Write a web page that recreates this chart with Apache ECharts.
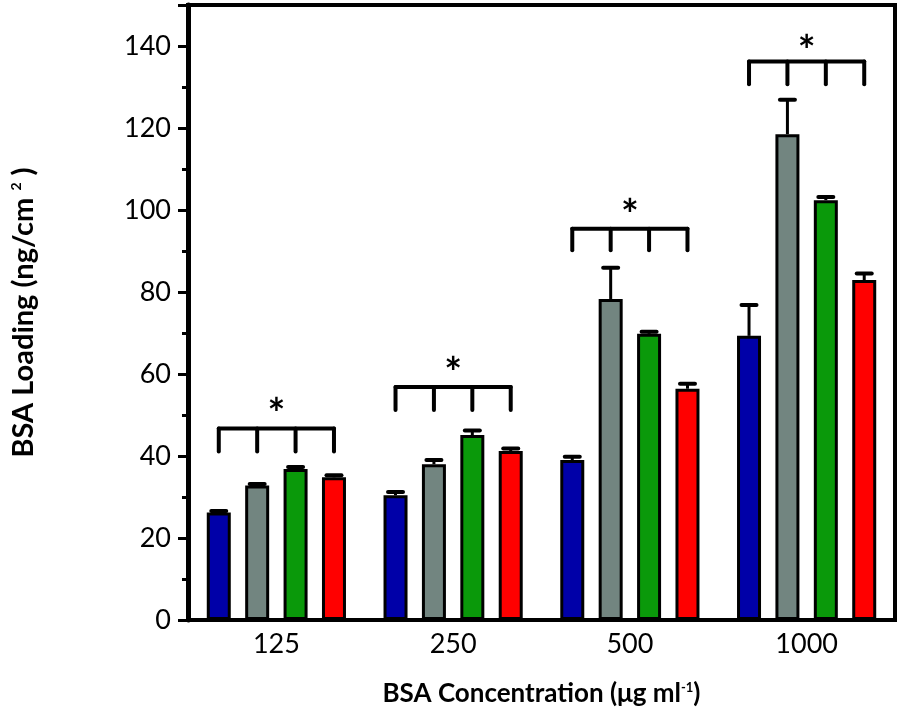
<!DOCTYPE html>
<html>
<head>
<meta charset="utf-8">
<script src="https://cdn.jsdelivr.net/npm/echarts@6/dist/echarts.min.js"></script>
<style>html,body{margin:0;padding:0;background:#fff;}#c{width:903px;height:717px;}</style>
</head>
<body>
<div id="c"></div>
<script>
// ---- data ----
var categories = ['125', '250', '500', '1000'];
var blueValues  = [26.2, 30.4, 39.0, 69.3];
var blueErr     = [0.4, 0.8, 0.8, 7.5];
var greyValues  = [32.8, 38.0, 78.3, 118.5];
var greyErr     = [0.4, 1.0, 7.6, 8.4];
var greenValues = [36.8, 45.1, 69.8, 102.4];
var greenErr    = [0.5, 1.1, 0.5, 0.8];
var redValues   = [34.8, 41.2, 56.4, 82.9];
var redErr      = [0.5, 0.6, 1.2, 1.6];
// significance brackets: [bar level, tick bottom level, star level]
var bracketTop    = [46.7, 56.8, 95.4, 136.2];
var bracketBottom = [41.1, 51.2, 90.2, 130.7];
var starLevel     = [52.0, 62.2, 100.7, 140.5];
var yTicks = [0, 20, 40, 60, 80, 100, 120, 140];

// ---- styling ----
var colors = ['#0000a8', '#728580', '#0a990a', '#ff0000'];
var BAR_W = 24, BAR_GAP = 0.6;
var STEP = BAR_W * (1 + BAR_GAP);
var FONT = 'Lato';

var chart = echarts.init(document.getElementById('c'), null, {renderer: 'canvas'});

var values = [blueValues, greyValues, greenValues, redValues];
var errs = [blueErr, greyErr, greenErr, redErr];

var series = [];
values.forEach(function (vals, i) {
  series.push({
    type: 'bar',
    data: vals,
    barWidth: BAR_W,
    barGap: (BAR_GAP * 100) + '%',
    itemStyle: {color: colors[i], borderColor: '#000', borderWidth: 3},
    z: 2
  });
});
values.forEach(function (vals, i) {
  var off = (i - 1.5) * STEP;
  series.push({
    type: 'custom',
    z: 5,
    clip: false,
    data: vals.map(function (v, k) { return [k, v, errs[i][k]]; }),
    encode: {x: 0, y: 1},
    renderItem: function (params, api) {
      var c = api.value(0), v = api.value(1), e = api.value(2);
      var p0 = api.coord([c, v]);
      var p1 = api.coord([c, v + e]);
      var x = p0[0] + off;
      return {
        type: 'group',
        children: [
          {type: 'line', shape: {x1: x, y1: p0[1], x2: x, y2: p1[1]}, style: {stroke: '#000', lineWidth: 3}},
          {type: 'line', shape: {x1: x - 7.5, y1: p1[1], x2: x + 7.5, y2: p1[1]}, style: {stroke: '#000', lineWidth: 4, lineCap: 'round'}}
        ]
      };
    }
  });
});
series.push({
  type: 'custom',
  z: 6,
  clip: false,
  data: categories.map(function (c, k) { return [k, bracketTop[k], bracketBottom[k], starLevel[k]]; }),
  encode: {x: 0, y: 1},
  renderItem: function (params, api) {
    var c = api.value(0);
    var pt = api.coord([c, api.value(1)]);
    var pb = api.coord([c, api.value(2)]);
    var ps = api.coord([c, api.value(3)]);
    var children = [];
    var xl = pt[0] - 1.5 * STEP, xr = pt[0] + 1.5 * STEP;
    children.push({type: 'line', shape: {x1: xl, y1: pt[1], x2: xr, y2: pt[1]}, style: {stroke: '#000', lineWidth: 4, lineCap: 'round'}});
    for (var i = 0; i < 4; i++) {
      var x = pt[0] + (i - 1.5) * STEP;
      children.push({type: 'line', shape: {x1: x, y1: pt[1], x2: x, y2: pb[1]}, style: {stroke: '#000', lineWidth: 4, lineCap: 'round'}});
    }
    children.push({type: 'text', style: {text: '*', x: pt[0], y: ps[1] + 9, align: 'center', verticalAlign: 'middle', font: 'bold 42px ' + FONT, fill: '#000'}});
    return {type: 'group', children: children};
  }
});

chart.setOption({
  animation: false,
  backgroundColor: '#fff',
  grid: {left: 188, right: 8, top: 5, bottom: 97, show: true, borderColor: '#000', borderWidth: 4, containLabel: false},
  xAxis: {
    type: 'category',
    data: categories,
    axisLine: {lineStyle: {color: '#000', width: 4}},
    axisTick: {show: false},
    axisLabel: {fontFamily: FONT, fontSize: 27, color: '#000', margin: 11},
    name: 'BSA Concentration (\u03bcg ml{s|-1})',
    nameLocation: 'middle',
    nameGap: 61,
    nameTextStyle: {fontFamily: FONT, fontWeight: 'bold', fontSize: 26, color: '#000',
      rich: {s: {fontFamily: FONT, fontWeight: 'bold', fontSize: 13, verticalAlign: 'top', color: '#000'}}}
  },
  yAxis: {
    type: 'value',
    min: 0, max: 150, interval: 20,
    splitLine: {show: false},
    axisLine: {show: true, lineStyle: {color: '#000', width: 5}},
    axisTick: {show: true, length: 10, lineStyle: {width: 3, color: '#000'}},
    minorTick: {show: true, splitNumber: 2, length: 6, lineStyle: {width: 3, color: '#000'}},
    axisLabel: {fontFamily: FONT, fontSize: 27, color: '#000', margin: 17, showMaxLabel: false,
      formatter: function (v) { return yTicks.indexOf(v) >= 0 ? String(v) : ''; }},
    name: 'BSA Loading (ng/cm {s|2} )',
    nameLocation: 'middle',
    nameRotate: 90,
    nameGap: 150,
    nameTextStyle: {fontFamily: FONT, fontWeight: 'bold', fontSize: 29, color: '#000',
      rich: {s: {fontFamily: FONT, fontWeight: 'bold', fontSize: 14, verticalAlign: 'top', color: '#000'}}}
  },
  series: series
});
</script>
</body>
</html>
